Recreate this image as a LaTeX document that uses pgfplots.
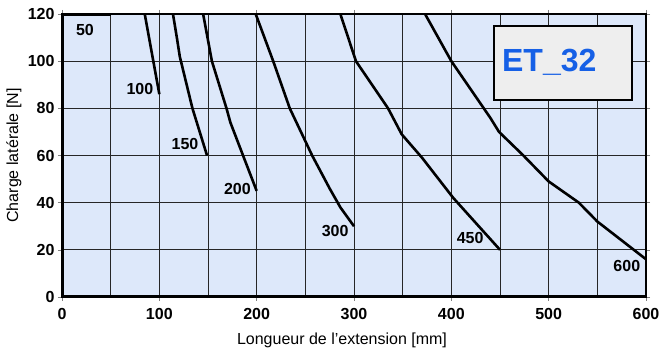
\documentclass[border=0pt]{standalone}
\usepackage{fontspec}
\setmainfont{Liberation Sans}
\usepackage{pgfplots}
\pgfplotsset{compat=1.18}
\definecolor{bgblue}{RGB}{221,232,250}
\definecolor{etblue}{RGB}{22,96,230}
\definecolor{boxgray}{RGB}{238,238,238}
\begin{document}
\begin{tikzpicture}
\useasboundingbox (-62pt,-58pt) rectangle (598pt,297pt);
\begin{axis}[
  at={(0pt,0pt)}, anchor=south west,
  scale only axis, width=584pt, height=283pt,
  xmin=0, xmax=600, ymin=0, ymax=120,
  xtick={0,100,...,600}, minor xtick={50,150,...,550},
  ytick={0,20,...,120},
  grid=both,
  major grid style={black!85, line width=0.8pt},
  minor grid style={black!85, line width=0.8pt},
  axis background/.style={fill=bgblue},
  axis line style={black, line width=1.4pt},
  tick align=outside, major tick length=4pt, minor tick length=0pt,
  tick style={gray, line width=0.6pt},
  /pgf/number format/assume math mode=true,
  tick label style={font=\fontsize{16}{16}\selectfont\bfseries},
  xticklabel style={yshift=-4pt},
  clip=false,
]
\addplot[black, line width=2.6pt] coordinates {(0,119.5) (50,119.5)};
\addplot[black, line width=2.6pt] coordinates {(85,120) (100,86)};
\addplot[black, line width=2.6pt] coordinates {(114,120) (118,110) (121,102) (134,80) (149,60)};
\addplot[black, line width=2.6pt] coordinates {(145,120) (154,100) (169,80) (173,74) (186,60) (200,45)};
\addplot[black, line width=2.6pt] coordinates {(199,120) (217,100) (234,80) (257,60) (275,46) (286,38) (300,30)};
\addplot[black, line width=2.6pt] coordinates {(286,120) (302,100) (335,80) (349,69) (370,59) (402,42) (450,20)};
\addplot[black, line width=2.6pt] coordinates {(373,120) (400,100) (440,76) (449,70) (474,60) (500,49) (531,40) (550,32) (600,16)};
\draw[line width=3pt] (rel axis cs:0,1) -- (rel axis cs:0,0) -- (rel axis cs:1,0);
\begin{scope}[every node/.style={font=\fontsize{16}{16}\selectfont\bfseries, inner sep=0pt}]
\node at (axis cs:23.6,113.2) {50};
\node at (axis cs:80,88.2) {100};
\node at (axis cs:126.4,65) {150};
\node at (axis cs:180.2,45.8) {200};
\node at (axis cs:280.6,28.1) {300};
\node at (axis cs:419.3,25.2) {450};
\node at (axis cs:580.3,13.2) {600};
\end{scope}
\draw[line width=2pt, fill=boxgray] (axis cs:444,115) rectangle (axis cs:586,83.7);
\node[anchor=west, inner sep=0pt, text=etblue, font=\fontsize{32}{32}\selectfont\bfseries] at (axis cs:452,99.4) {ET\_32};
\node[font=\fontsize{16}{16}\selectfont, inner sep=0pt] at ([xshift=-12pt,yshift=-43pt]rel axis cs:0.5,0) {Longueur de l'extension [mm]};
\node[rotate=90, font=\fontsize{16}{16}\selectfont, inner sep=0pt] at ([xshift=-48pt]rel axis cs:0,0.5) {Charge latérale [N]};
\end{axis}
\end{tikzpicture}
\end{document}
